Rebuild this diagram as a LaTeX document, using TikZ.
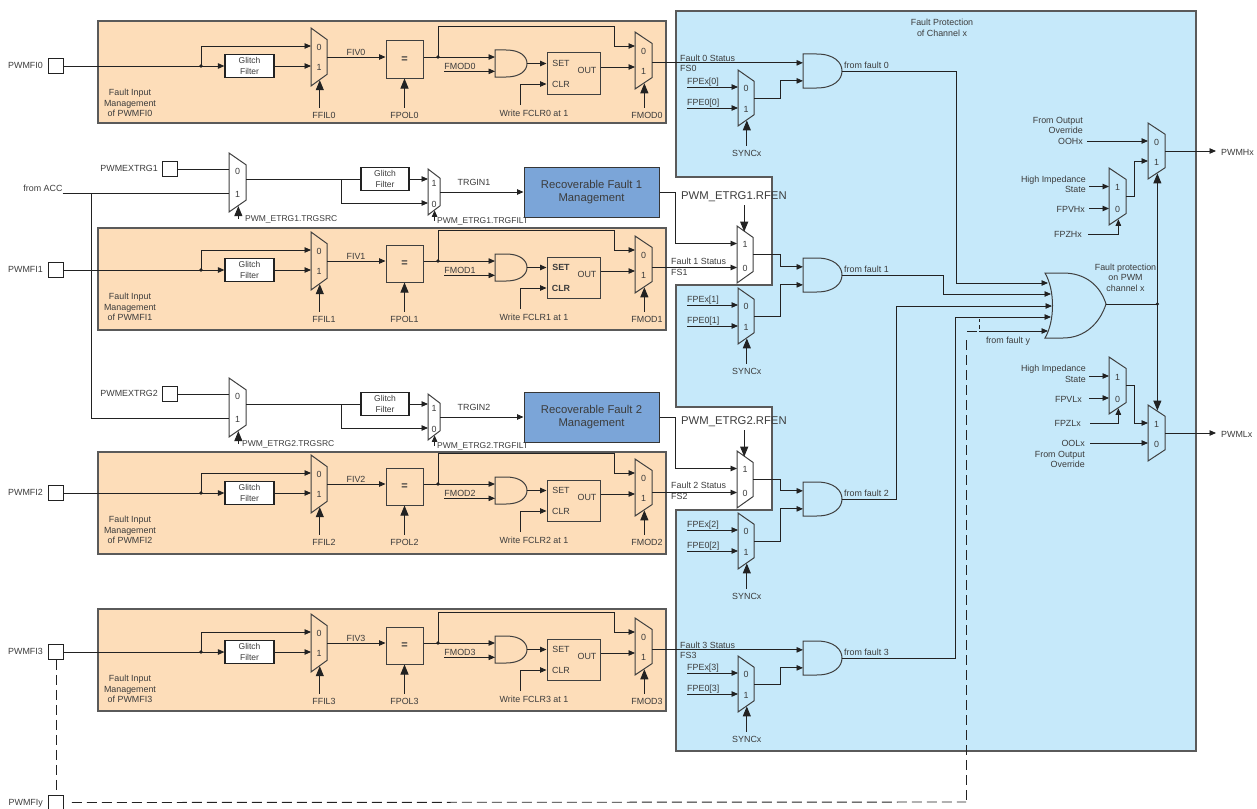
\documentclass[tikz,border=0pt]{standalone}
\usepackage{fontspec}
\setmainfont{Liberation Sans}
\usetikzlibrary{calc, arrows.meta}
\definecolor{panelorange}{HTML}{FDDDB9}
\definecolor{panelblue}{HTML}{C6E9FA}
\definecolor{recblue}{HTML}{7BA5D8}
\definecolor{textgray}{HTML}{3C3C3C}
\definecolor{wiregray}{HTML}{222222}
\definecolor{bordergray}{HTML}{5A5A5A}
\tikzset{
  wire line/.style={line width=0.9pt, draw=wiregray},
  signal line/.style={wire line, -{Triangle[length=6.5pt,width=5.5pt]}},
  control line/.style={wire line, -{Triangle[length=10pt,width=8pt]}},
  dash line/.style={wire line, dash pattern=on 10pt off 5pt},
  gate line/.style={line width=1pt, draw=bordergray!70!black},
  tag/.style={font=\fontsize{8.9}{10.5}\selectfont, inner sep=0pt, text=textgray, align=center},
  small tag/.style={tag, font=\fontsize{8.5}{10.5}\selectfont},
  big tag/.style={tag, font=\fontsize{11.3}{13.5}\selectfont},
  port box/.style={draw=wiregray, line width=0.9pt, fill=white, minimum size=15pt, inner sep=0pt},
  glitch box/.style={small tag, draw=wiregray, line width=1.2pt, fill=white, minimum width=49pt, minimum height=23pt},
  plain box/.style={tag, draw=bordergray!70!black, line width=1pt},
  panel box/.style={draw=bordergray, line width=1.2pt},
  rec box/.style={big tag, draw=bordergray!60!black, line width=1pt, fill=recblue, minimum width=135pt, minimum height=50pt},
}
\newcommand{\drawMux}[9]{
  \begin{scope}[shift={(#2,#3)}]
    \draw[gate line] (0,0) -- (#4,{0.2*#5}) -- (#4,{0.8*#5}) -- (0,#5) -- cycle;
    \coordinate (#1-a) at (0,#6);
    \coordinate (#1-b) at (0,#7);
    \coordinate (#1-o) at (#4,{0.5*#5});
    \coordinate (#1-n) at ({0.45*#4},{0.1*#5});
    \coordinate (#1-s) at ({0.55*#4},{0.9*#5});
    \node[tag] (#1-ta) at ({0.5*#4},{#6+1}) {#8};
    \node[tag] (#1-tb) at ({0.5*#4},{#7+1}) {#9};
  \end{scope}
}
\newcommand{\drawAnd}[5]{
  \begin{scope}[shift={(#2,#3)}]
    \draw[gate line] (0,0) -- ({0.35*#4},0) .. controls ({0.8*#4},0) and (#4,{0.25*#5}) .. (#4,{0.5*#5})
      .. controls (#4,{0.75*#5}) and ({0.8*#4},#5) .. ({0.35*#4},#5) -- (0,#5) -- cycle;
    \coordinate (#1-a) at (0,{0.26*#5});
    \coordinate (#1-b) at (0,{0.79*#5});
    \coordinate (#1-o) at (#4,{0.5*#5});
  \end{scope}
}
% index, inner shift, panel top, font of SET and CLR
\newcommand{\drawFaultBlock}[4]{
  \fill[panelorange] (98,#3) rectangle (666,#3+102);
  \draw[panel box] (98,#3) rectangle (666,#3+102);
  \begin{scope}[shift={(0,#2)}]
    \node[port box] (pf#1) at (56,66) {};
    \node[tag, anchor=east] (pf#1-lbl) at (43,65) {PWMFI#1};
    \node[glitch box] (gf#1) at (249.5,66) {Glitch\\Filter};
    \drawMux{fm#1}{311}{28}{16}{58}{18}{38}{0}{1}
    \coordinate (jn#1) at (201,66);
    \draw[wire line] (pf#1.east) -- (jn#1);
    \draw[signal line] (jn#1) -- (gf#1.west);
    \draw[signal line] (jn#1) |- (fm#1-a);
    \fill[wiregray] (jn#1) circle (1.8pt);
    \draw[signal line] (gf#1.east) -- (gf#1.east -| fm#1-b);
    \node[tag] (ffil#1) at (324,115) {FFIL#1};
    \draw[control line, shorten <=4pt] (fm#1-s |- ffil#1.north) -- (fm#1-s);
    \node[tag] (inl#1) at (130,103) {Fault Input\\Management\\of PWMFI#1};
    \node[plain box, font=\fontsize{11}{13}\bfseries\selectfont, minimum width=37pt, minimum height=37pt] (eq#1) at (404.5,59.5) {=};
    \node[tag] (fiv#1) at (356,52) {FIV#1};
    \draw[signal line] (fm#1-o) -- (fm#1-o -| eq#1.west);
    \node[tag] (fpol#1) at (404.5,115) {FPOL#1};
    \draw[control line, shorten <=4pt] (fpol#1.north) -- (eq#1.south);
    \drawAnd{ag#1}{495}{50}{32}{27}
    \coordinate (jt#1) at (438,57);
    \draw[signal line] (ag#1-a -| eq#1.east) -- (ag#1-a);
    \fill[wiregray] (jt#1) circle (1.8pt);
    \node[tag] (fmodl#1) at (460,66) {FMOD#1};
    \draw[signal line] (ag#1-b -| fmodl#1.west) -- (ag#1-b);
    \node[plain box, minimum width=53pt, minimum height=41pt] (sr#1) at (573.5,73.5) {};
    \node[tag, font=#4] (set#1) at (561,63) {SET};
    \node[tag, font=#4] (clr#1) at (561,84) {CLR};
    \node[tag] (out#1) at (587,70) {OUT};
    \draw[signal line] (ag#1-o) -- (ag#1-o -| sr#1.west);
    \node[tag] (fclr#1) at (534,113) {Write FCLR#1 at 1};
    \coordinate (ci#1) at (520,105);
    \draw[signal line] (ci#1) |- (sr#1.west |- clr#1);
    \drawMux{om#1}{635}{32}{17}{57}{18}{38}{0}{1}
    \coordinate (ot#1) at ([yshift=4pt]om#1-a);
    \coordinate (ob#1) at ([yshift=3pt]om#1-b);
    \coordinate (tp#1) at (614,26);
    \draw[signal line] (jt#1) |- (tp#1) |- (ot#1);
    \draw[signal line] (ob#1 -| sr#1.east) -- (ob#1);
    \node[tag] (fmod#1) at (647,115) {FMOD#1};
    \draw[control line, shorten <=4pt] (om#1-s |- fmod#1.north) -- (om#1-s);
  \end{scope}
}
% index, shift, left of the source label
\newcommand{\drawTrigger}[3]{
  \begin{scope}[shift={(0,#2)}]
    \node[port box] (pt#1) at (169.5,169) {};
    \node[tag, anchor=east] (pt#1-lbl) at (158,168) {PWMEXTRG#1};
    \drawMux{tm#1}{229}{153}{17}{59}{17}{40}{0}{1}
    \draw[wire line] (pt#1.east) -- (pt#1.east -| tm#1-a);
    \node[small tag, anchor=west] (src#1) at (#3,219) {PWM\_ETRG#1.TRGSRC};
    \draw[control line] (tm#1-s |- src#1.center) -- (tm#1-s);
    \node[glitch box, minimum width=48pt] (tg#1) at (385,179) {Glitch\\Filter};
    \draw[wire line] (tm#1-o |- tg#1.west) -- (tg#1.west);
    \coordinate (tb#1) at (341,179);
    \drawMux{sm#1}{428}{169}{12}{46}{13}{34}{1}{0}
    \draw[signal line] (tg#1.east) -- (tg#1.east -| sm#1-a);
    \draw[signal line] (tb#1) |- (sm#1-b);
    \node[small tag, anchor=west] (filt#1) at (437,221) {PWM\_ETRG#1.TRGFILT};
    \draw[signal line] (sm#1-s |- filt#1.center) -- (sm#1-s);
    \node[rec box] (rec#1) at (591.5,192) {Recoverable Fault #1\\Management};
    \node[tag] (trg#1) at (474,182) {TRGIN#1};
    \draw[signal line] (sm#1-o) -- (sm#1-o -| rec#1.west);
    \node[big tag, anchor=west] (rfen#1) at (681,197) {PWM\_ETRG#1.RFEN};
    \drawMux{rm#1}{737}{226}{16}{57}{17.5}{41.5}{1}{0}
    \coordinate (rt#1) at (675,192);
    \draw[signal line] (rec#1.east) -- (rec#1.east -| rt#1) |- (rm#1-a);
    \draw[control line, shorten <=3pt] (rm#1-n |- rfen#1.south) -- (rm#1-n);
  \end{scope}
}
% index, top of gate, top of selector
\newcommand{\drawStatus}[3]{
  \drawAnd{and#1}{803}{#2}{39}{34}
  \node[tag, anchor=west] (ff#1) at (844,#2+11) {from fault #1};
  \drawMux{fp#1}{738}{#3}{16}{56}{17}{38}{0}{1}
  \begin{scope}[shift={(0,#3)}]
    \node[tag, anchor=west] (fpx#1) at (687,12) {FPEx[#1]};
    \node[tag, anchor=west] (fpz#1) at (687,33) {FPE0[#1]};
    \node[tag] (sy#1) at (746.8,83) {SYNCx};
  \end{scope}
  \draw[signal line] (fp#1-a -| fpx#1.west) -- (fp#1-a);
  \draw[signal line] (fp#1-b -| fpz#1.west) -- (fp#1-b);
  \draw[control line, shorten <=4pt] (fp#1-s |- sy#1.north) -- (fp#1-s);
  \coordinate (st#1) at (780,0);
  \draw[signal line] (fp#1-o) -- (fp#1-o -| st#1) |- (and#1-b);
}
\begin{document}
\begin{tikzpicture}[x=1pt, y=-1pt]
  \useasboundingbox (0,0) rectangle (1257,808);
  \draw[panel box, fill=panelblue] (676,11) -- (1196,11) -- (1196,751) -- (676,751) -- (676,510) -- (772,510) -- (772,407)
    -- (676,407) -- (676,285) -- (772,285) -- (772,177) -- (676,177) -- cycle;
  \node[tag] (title) at (942,28) {Fault Protection\\of Channel x};
  \drawFaultBlock{0}{0}{21}{\fontsize{8.9}{10.5}\selectfont}
  \drawFaultBlock{1}{204}{228}{\fontsize{8.9}{10.5}\bfseries\selectfont}
  \drawFaultBlock{2}{427}{452}{\fontsize{8.9}{10.5}\selectfont}
  \drawFaultBlock{3}{586}{609}{\fontsize{8.9}{10.5}\selectfont}
  % external triggers
  \node[tag] (acc) at (43,188) {from ACC};
  \drawTrigger{1}{0}{245}
  \drawTrigger{2}{225}{242}
  \coordinate (ab) at (91,194);
  \draw[wire line] (acc.east |- tm1-b) -- (tm1-b);
  \draw[wire line] (ab) |- (tm2-b);
  % status gates
  \drawStatus{0}{54}{70}
  \drawStatus{1}{258}{288}
  \drawStatus{2}{482}{513}
  \drawStatus{3}{641}{656}
  \node[tag, anchor=west] (st0l) at (680,58) {Fault 0 Status};
  \node[tag, anchor=west] (fs0) at (680,68) {FS0};
  \draw[signal line] (om0-o |- and0-a) -- (and0-a);
  \node[tag, anchor=west] (st1l) at (671,261) {Fault 1 Status};
  \node[tag, anchor=west] (fs1) at (671,272) {FS1};
  \draw[signal line] (om1-o |- rm1-b) -- (rm1-b);
  \draw[signal line] (rm1-o) -- (rm1-o -| st1) |- (and1-a);
  \node[tag, anchor=west] (st2l) at (671,485) {Fault 2 Status};
  \node[tag, anchor=west] (fs2) at (671,496) {FS2};
  \draw[signal line] (om2-o |- rm2-b) -- (rm2-b);
  \draw[signal line] (rm2-o) -- (rm2-o -| st2) |- (and2-a);
  \node[tag, anchor=west] (st3l) at (680,645) {Fault 3 Status};
  \node[tag, anchor=west] (fs3) at (680,655) {FS3};
  \draw[signal line] (om3-o |- and3-a) -- (and3-a);
  % fault or gate
  \draw[gate line] (1045,273) -- (1063,273) .. controls (1085,273) and (1100,285) .. (1106,304)
    .. controls (1100,323) and (1085,338) .. (1063,338) -- (1045,338) .. controls (1055,321) and (1055,290) .. (1045,273) -- cycle;
  \coordinate (or0) at (1048,283);
  \coordinate (or1) at (1051,294);
  \coordinate (or2) at (1052,306);
  \coordinate (or3) at (1051,317);
  \coordinate (or4) at (1048,331);
  \coordinate (oro) at (1106,304);
  \coordinate (tf0) at (956,0);
  \coordinate (tf1) at (943,0);
  \coordinate (tf2) at (896,0);
  \coordinate (tf3) at (955,0);
  \draw[signal line] (and0-o) -- (and0-o -| tf0) |- (or0);
  \draw[signal line] (and1-o) -- (and1-o -| tf1) |- (or1);
  \draw[signal line] (and2-o) -- (and2-o -| tf2) |- (or2);
  \draw[signal line] (and3-o) -- (and3-o -| tf3) |- (or3);
  \node[tag] (fy) at (1008,341) {from fault y};
  \node[tag] (fpc) at (1125.5,277.5) {Fault protection\\on PWM\\channel x};
  % fault y path
  \node[port box] (pf3b) at (56,802.5) {};
  \node[tag, anchor=east] (pfy) at (43,803) {PWMFIy};
  \coordinate (dy0) at (966,802);
  \coordinate (dy1) at (966,340);
  \coordinate (dy2) at (967,331);
  \coordinate (dy3) at (979,331);
  \coordinate (dy4) at (979,319);
  \draw[dash line] (pf3.south) -- (pf3b.north);
  \draw[dash line] ([xshift=8pt]pf3b.east) -- (dy0);
  \draw[dash line] (dy1) -- (dy0);
  \draw[wire line] (dy2) -- ++(10,0);
  \draw[wire line] (dy4) -- ++(0,3) (dy4) ++(0,6) -- ++(0,4);
  \draw[signal line] (dy3) -- (or4);
  % output selectors
  \drawMux{mh}{1148}{123}{17}{56}{18}{38}{0}{1}
  \drawMux{ih}{1109}{168}{17}{57}{18.5}{40.5}{1}{0}
  \drawMux{il}{1109}{357}{17}{57}{19}{41}{1}{0}
  \drawMux{ml}{1148}{405}{17}{56}{18}{38}{1}{0}
  \coordinate (pj) at (mh-s |- oro);
  \draw[wire line] (oro) -- (pj);
  \draw[control line] (pj) -- (mh-s);
  \draw[control line] (pj) -- (pj |- ml-n);
  \fill[wiregray] (pj) circle (1.8pt);
  \coordinate (ti) at (1134,0);
  \draw[signal line] (ih-o) -- (ih-o -| ti) |- (mh-b);
  \draw[signal line] (il-o) -- (il-o -| ti) |- (ml-a);
  \node[tag, anchor=east, align=right] (ooh) at (1083,130.5) {From Output\\Override\\OOHx};
  \draw[signal line, shorten <=4pt] (mh-a -| ooh.east) -- (mh-a);
  \node[tag, anchor=east, align=right] (hzh) at (1086,184.5) {High Impedance\\State};
  \draw[signal line, shorten <=3pt] (ih-a -| hzh.east) -- (ih-a);
  \node[tag, anchor=east] (fpvh) at (1085,209) {FPVHx};
  \draw[signal line, shorten <=4pt] (ih-b -| fpvh.east) -- (ih-b);
  \node[tag, anchor=east] (fpzh) at (1082,234) {FPZHx};
  \draw[signal line, shorten <=6pt] (fpzh.east) -| (ih-s);
  \node[tag, anchor=east, align=right] (hzl) at (1086,374) {High Impedance\\State};
  \draw[signal line, shorten <=3pt] (il-a -| hzl.east) -- (il-a);
  \node[tag, anchor=east] (fpvl) at (1082,399) {FPVLx};
  \draw[signal line, shorten <=7pt] (il-b -| fpvl.east) -- (il-b);
  \node[tag, anchor=east] (fpzl) at (1081,423) {FPZLx};
  \draw[signal line, shorten <=9pt] (fpzl.east) -| (il-s);
  \node[tag, anchor=east, align=right] (ool) at (1085,454) {OOLx\\From Output\\Override};
  \draw[signal line, shorten <=5pt] (ml-b -| ool.east) -- (ml-b);
  \node[tag, anchor=west] (pwmh) at (1221,152) {PWMHx};
  \draw[signal line, shorten >=5pt] (mh-o) -- (mh-o -| pwmh.west);
  \node[tag, anchor=west] (pwml) at (1221,434) {PWMLx};
  \draw[signal line, shorten >=5pt] (ml-o) -- (ml-o -| pwml.west);
\end{tikzpicture}
\end{document}
